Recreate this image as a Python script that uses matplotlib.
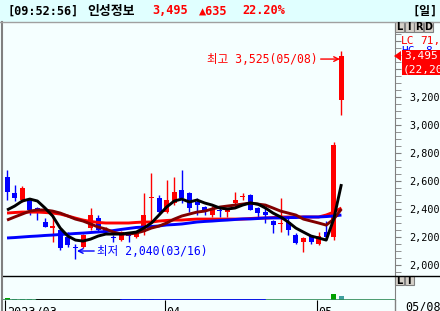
import matplotlib
matplotlib.use('Agg')
import matplotlib.pyplot as plt
from matplotlib.patches import Rectangle, Polygon
from matplotlib.lines import Line2D
from matplotlib.ticker import MultipleLocator, FuncFormatter
from matplotlib.transforms import ScaledTranslation

# 인성정보 daily candles, 2023/03/03 .. 2023/05/08
opens = [2628, 2514, 2464, 2471, 2407, 2307, 2264, 2250, 2200, 2128,
         2128, 2264, 2335, 2243, 2200, 2178, 2214, 2200, 2235, 2478,
         2478, 2378, 2443, 2535, 2514, 2450, 2414, 2357, 2393, 2378,
         2443, 2485, 2500, 2407, 2378, 2314, 2293, 2307, 2214, 2164,
         2207, 2150, 2235, 2200, 3178]
highs = [2678, 2571, 2564, 2478, 2414, 2335, 2357, 2264, 2235, 2150,
         2221, 2407, 2357, 2271, 2214, 2243, 2228, 2235, 2514, 2657,
         2500, 2607, 2628, 2678, 2521, 2478, 2421, 2421, 2414, 2407,
         2521, 2514, 2507, 2414, 2407, 2321, 2478, 2335, 2228, 2200,
         2214, 2235, 2314, 2878, 3525]
lows = [2464, 2457, 2450, 2357, 2321, 2271, 2164, 2107, 2128, 2040,
        2121, 2250, 2235, 2228, 2164, 2171, 2164, 2193, 2214, 2307,
        2357, 2371, 2428, 2443, 2378, 2357, 2357, 2343, 2343, 2343,
        2414, 2464, 2393, 2343, 2300, 2228, 2235, 2214, 2150, 2093,
        2150, 2143, 2193, 2178, 3071]
closes = [2521, 2478, 2550, 2393, 2378, 2271, 2278, 2121, 2143, 2121,
          2214, 2357, 2250, 2257, 2193, 2235, 2207, 2228, 2357, 2485,
          2378, 2464, 2521, 2478, 2407, 2428, 2378, 2400, 2385, 2393,
          2464, 2492, 2393, 2371, 2357, 2285, 2300, 2250, 2157, 2193,
          2164, 2207, 2200, 2860, 3495]

# moving averages as drawn on the chart
ma_black = [2393, 2421, 2457, 2471, 2457, 2407, 2350, 2264, 2207, 2178,
            2171, 2185, 2207, 2221, 2221, 2221, 2228, 2235, 2264, 2300,
            2357, 2414, 2457, 2471, 2450, 2464, 2443, 2428, 2407, 2400,
            2407, 2428, 2443, 2435, 2407, 2371, 2343, 2307, 2264, 2235,
            2207, 2193, 2178, 2330, 2578]
ma_darkred = [2321, 2343, 2364, 2385, 2393, 2393, 2385, 2371, 2350, 2328,
              2314, 2293, 2271, 2257, 2235, 2221, 2221, 2228, 2243, 2264,
              2278, 2300, 2328, 2350, 2364, 2378, 2385, 2400, 2414, 2421,
              2428, 2435, 2443, 2435, 2428, 2407, 2385, 2371, 2357, 2328,
              2314, 2300, 2285, 2328, 2400]
ma_red = [2371, 2375, 2378, 2378, 2378, 2375, 2371, 2364, 2350, 2335,
          2321, 2311, 2304, 2300, 2300, 2300, 2300, 2304, 2307, 2307,
          2314, 2318, 2321, 2321, 2325, 2328, 2328, 2328, 2328, 2328,
          2328, 2328, 2332, 2335, 2335, 2339, 2343, 2343, 2343, 2343,
          2343, 2343, 2357, 2378, 2407]
ma_blue = [2193, 2196, 2200, 2204, 2207, 2211, 2214, 2218, 2221, 2225,
           2228, 2232, 2236, 2239, 2246, 2254, 2261, 2268, 2271, 2275,
           2279, 2286, 2289, 2293, 2300, 2307, 2311, 2314, 2318, 2321,
           2325, 2329, 2329, 2332, 2336, 2336, 2336, 2339, 2339, 2343,
           2343, 2343, 2346, 2350, 2357]

# volume (panel units, 0..100)
volumes = [8, 4, 4, 4, 4, 0, 0, 0, 0, 0,
           0, 0, 0, 0, 0, 0, 0, 0, 6, 6,
           0, 0, 0, 0, 0, 0, 0, 0, 0, 0,
           0, 0, 0, 0, 0, 0, 0, 0, 0, 0,
           0, 0, 0, 26, 16]
vol_colors = ['#00A000', '#40A0A0', '#40A0A0', '#40A0A0', '#40A0A0'] + ['#00A000'] * 38 + ['#00A000', '#40A0A0']

tick_idx = [0, 21, 41]
tick_labels = ['2023/03', '04', '05']

W, H = 440, 311
BG = '#F5FFFF'
fig = plt.figure(figsize=(W / 100, H / 100), dpi=100, facecolor=BG)


def fx(px):
    return px / W


def fy(py):
    return 1 - py / H


ax = fig.add_axes([fx(3), fy(275), fx(395) - fx(3), fy(22) - fy(275)])
vax = fig.add_axes([fx(3), fy(300), fx(395) - fx(3), fy(275) - fy(300)], sharex=ax)
for a in (ax, vax):
    a.set_facecolor(BG)
    for s in ('top', 'left', 'bottom'):
        a.spines[s].set_visible(False)
    a.spines['right'].set_color('#808080')

n = len(opens)
xs = list(range(n))

# candles
for i in xs:
    o, h, l, c = opens[i], highs[i], lows[i], closes[i]
    col = '#FF0000' if c >= o else '#0000FF'
    ax.vlines(i, l, h, color=col, lw=1, zorder=2)
    body = max(abs(c - o), 8)
    ax.bar(i, body, bottom=min(o, c), width=0.66, color=col, zorder=2)

# moving averages
ax.plot(xs, ma_red, color='#FF0000', lw=2.1, zorder=3, solid_capstyle='butt')
ax.plot(xs, ma_blue, color='#0000FF', lw=2.1, zorder=3, solid_capstyle='butt')
ax.plot(xs, ma_darkred, color='#800000', lw=2.1, zorder=3, solid_capstyle='butt')
ax.plot(xs, ma_black, color='#000000', lw=2.1, zorder=4, solid_capstyle='butt')

ax.set_xlim(-0.53, 51.05)
ax.set_ylim(1928.6, 3735.7)

ax.yaxis.tick_right()
ax.yaxis.set_major_locator(MultipleLocator(200))
ax.yaxis.set_minor_locator(MultipleLocator(50))
ax.yaxis.set_major_formatter(FuncFormatter(lambda v, p: f'{v:,.0f}' if v <= 3200 else ''))
ax.tick_params(axis='y', which='both', direction='out', length=4, color='#808080',
               labelsize=7.3, pad=6)
for t in ax.get_yticklabels():
    t.set_family('DejaVu Sans Mono')
ax.tick_params(axis='x', which='both', bottom=False, labelbottom=False)

# annotations
ann_font = ['DejaVu Sans Mono', 'Noto Sans CJK KR']
ax.annotate('최고 3,525(05/08)', xy=(43.8, 3471), xytext=(-22, 0), textcoords='offset pixels',
            ha='right', va='center', color='#FF0000', fontsize=8.3, family=ann_font,
            arrowprops=dict(arrowstyle='->', color='#FF0000', lw=1, shrinkA=0, shrinkB=0))
ax.annotate('최저 2,040(03/16)', xy=(9.2, 2100), xytext=(20, 0), textcoords='offset pixels',
            ha='left', va='center', color='#0000FF', fontsize=8.3, family=ann_font,
            arrowprops=dict(arrowstyle='->', color='#0000FF', lw=1, shrinkA=0, shrinkB=0))

# volume panel
vax.bar(xs, volumes, width=0.66, color=vol_colors, zorder=2)
vax.axhline(0.8, color='#2E8B57', lw=1.2, zorder=3)
vax.plot(xs[4:16], [0.8] * 12, color='#000000', lw=1.2, zorder=4)
vax.plot(xs[15:35], [0.8] * 20, color='#0000FF', lw=1.2, zorder=4)
vax.set_ylim(0, 100)
vax.set_yticks([])
vax.set_xticks([t - 0.25 for t in tick_idx])
vax.set_xticklabels(tick_labels, ha='left', fontsize=8.5, family='DejaVu Sans Mono')
vax.tick_params(axis='x', direction='out', length=12, pad=-8, color='#000000')
for t in vax.get_xticklabels():
    t.set_transform(t.get_transform() + ScaledTranslation(2 / 100, 0, fig.dpi_scale_trans))

# frame lines
fig.add_artist(Line2D([fx(3), 1], [fy(275.5), fy(275.5)], color='#000000', lw=1))
fig.add_artist(Line2D([fx(1.5), fx(1.5)], [fy(22), 0], color='#808080', lw=1.5))
fig.add_artist(Line2D([fx(395), fx(395)], [fy(300), 0], color='#808080', lw=1))

# header
fig.add_artist(Rectangle((0, fy(21.5)), 1, 21.5 / H, facecolor='#E0FFFF', edgecolor='none'))
fig.add_artist(Line2D([0, 1], [fy(21.5), fy(21.5)], color='#A0A0A0', lw=1))
hy = fy(11)
mono = ['DejaVu Sans Mono', 'Noto Sans CJK KR']
fig.text(fx(7), hy, '[09:52:56]', color='#000000', fontsize=8.6, family=mono, va='center', weight='bold')
fig.text(fx(87), hy, '인성정보', color='#000000', fontsize=9.3, family='Noto Sans CJK KR', va='center', weight='bold')
fig.text(fx(152), hy, '3,495', color='#FF0000', fontsize=8.6, family=mono, va='center', weight='bold')
fig.text(fx(199), hy, '▲635', color='#FF0000', fontsize=8.6, family=mono, va='center', weight='bold')
fig.text(fx(242), hy, '22.20%', color='#FF0000', fontsize=8.6, family=mono, va='center', weight='bold')
fig.text(fx(412), hy, '[일]', color='#000000', fontsize=8.6, family=mono, va='center', weight='bold')

# buttons top right
for k, ch in enumerate(['L', 'I', 'R', 'D']):
    x0 = 395 + k * 9.5
    fig.add_artist(Rectangle((fx(x0), fy(32)), 9 / W, 10 / H, facecolor='#D4D0C8', edgecolor='#808080', lw=0.8))
    fig.text(fx(x0 + 4.5), fy(27), ch, fontsize=7, weight='bold', ha='center', va='center', family='DejaVu Sans')
for k, ch in enumerate(['L', 'I']):
    x0 = 395 + k * 9.5
    fig.add_artist(Rectangle((fx(x0), fy(285)), 9 / W, 9 / H, facecolor='#D4D0C8', edgecolor='#808080', lw=0.8))
    fig.text(fx(x0 + 4.5), fy(280.5), ch, fontsize=7, weight='bold', ha='center', va='center', family='DejaVu Sans')

# right side labels: LC/HC partly hidden under the current price box
fig.text(fx(401), fy(41), 'LC', color='#FF0000', fontsize=8, family='DejaVu Sans Mono', va='center', zorder=2)
fig.text(fx(420), fy(41), '71,', color='#FF0000', fontsize=8, family='DejaVu Sans Mono', va='center', zorder=2)
fig.text(fx(401), fy(51), 'HC', color='#0000FF', fontsize=8, family='DejaVu Sans Mono', va='center', zorder=2)
fig.text(fx(425), fy(51), '8', color='#0000FF', fontsize=8, family='DejaVu Sans Mono', va='center', zorder=2)
fig.add_artist(Rectangle((fx(401.5), fy(75)), (440 - 401.5) / W, 25 / H, facecolor='#FF0000',
                         edgecolor='none', zorder=6))
fig.add_artist(Polygon([[fx(394), fy(56)], [fx(401), fy(51)], [fx(401), fy(61)]], closed=True,
                       facecolor='#FF0000', edgecolor='none', zorder=6))
fig.text(fx(404), fy(56.5), '3,495', color='#FFFFFF', fontsize=8, family='DejaVu Sans Mono', va='center', zorder=7)
fig.text(fx(403), fy(69), '(22,20', color='#FFFFFF', fontsize=8, family='DejaVu Sans Mono', va='center', zorder=7)
fig.text(fx(405), fy(307.5), '05/08', color='#000000', fontsize=8.5, family='DejaVu Sans Mono', va='center')

fig.savefig('out.png', dpi=100, facecolor=BG)
